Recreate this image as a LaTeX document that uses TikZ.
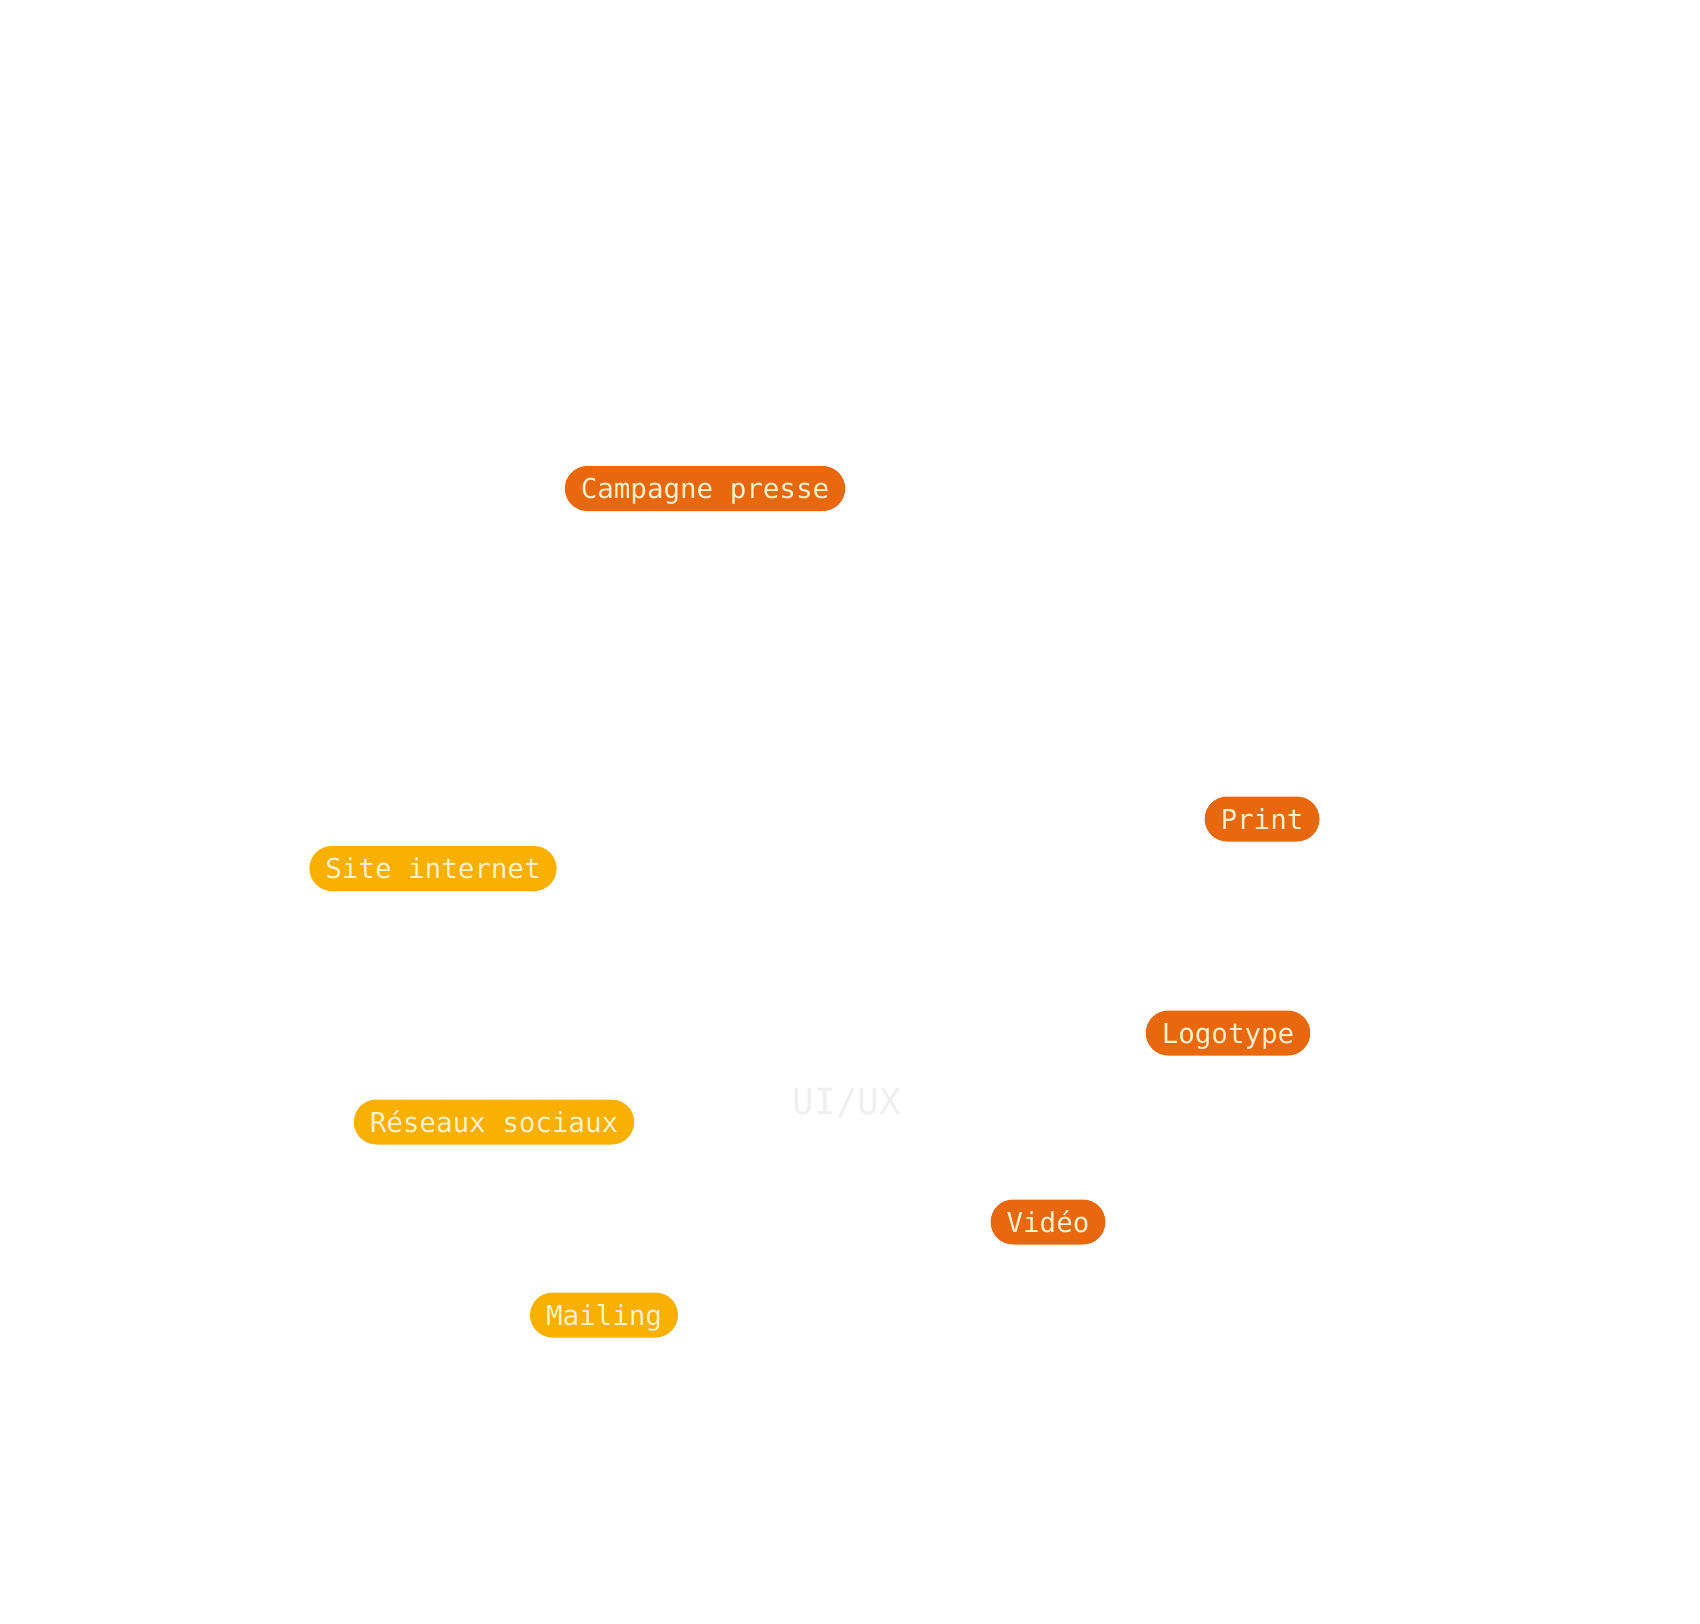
\documentclass[tikz,border=0pt]{standalone}
\usepackage{fontspec}
\setmonofont{DejaVu Sans Mono}
\usepackage{tikz}
\usetikzlibrary{positioning}
\definecolor{tagorange}{HTML}{E9670D}
\definecolor{tagyellow}{HTML}{F9B000}
\definecolor{tagtext}{HTML}{FFF1CC}
\definecolor{ghost}{HTML}{EFEFEF}

\begin{document}
\begin{tikzpicture}[x=1pt,y=-1pt,
  tg/.style={rounded corners=22.5pt,minimum height=45pt,inner xsep=16pt,inner ysep=0pt,
    text height=20pt,text depth=0pt,text=tagtext,font=\ttfamily\fontsize{27.5}{30}\selectfont},
  tgo/.style={tg,fill=tagorange},
  tgy/.style={tg,fill=tagyellow},
  bg/.style={text=ghost,font=\ttfamily\fontsize{36}{40}\selectfont}]
\useasboundingbox (0,0) rectangle (1700,1623);
\node[bg] (uiux) at (847,1103) {UI/UX};
\node[tgo] (presse) at (705,488.5) {Campagne presse};
\node[tgo] (print) at (1262,819) {Print};
\node[tgo] (logo) at (1228,1033) {Logotype};
\node[tgo] (video) at (1048,1222) {Vidéo};
\node[tgy] (site) at (433,868.5) {Site internet};
\node[tgy] (reseaux) at (494,1122) {Réseaux sociaux};
\node[tgy] (mailing) at (604,1315) {Mailing};
\end{tikzpicture}
\end{document}
